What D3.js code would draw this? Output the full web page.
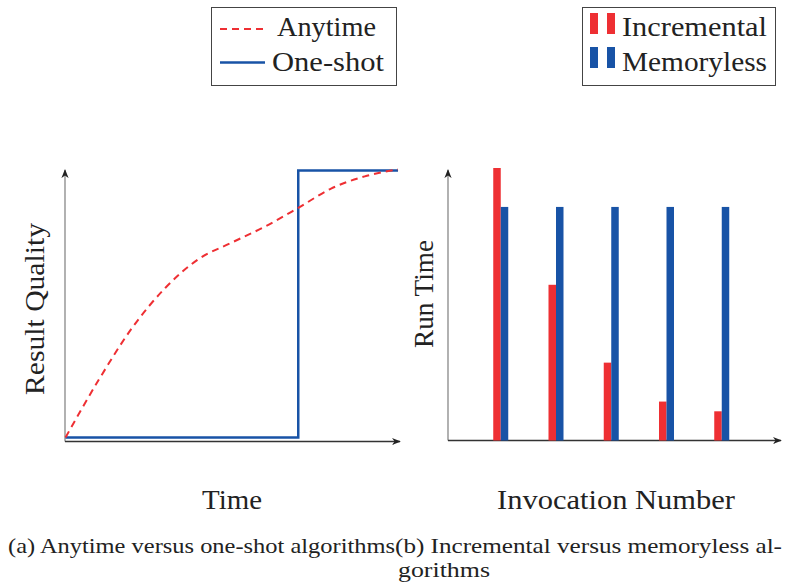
<!DOCTYPE html>
<html>
<head>
<meta charset="utf-8">
<script src="https://cdn.jsdelivr.net/npm/d3@7"></script>
<style>
  body { margin: 0; background: #fff; }
  text { font-family: "Liberation Serif", "Times New Roman", serif; fill: #222; }
</style>
</head>
<body>
<script>
// Panel (a): result quality over time
const anytimeX = [0, 1, 2, 3, 4, 5, 6, 7, 8, 9, 10];
const anytimeY = [0, 2.16, 4.1, 5.6, 6.68, 7.3, 7.9, 8.6, 9.33, 9.78, 10.04];
const oneShotX = [0, 7, 7, 10];
const oneShotY = [0, 0, 10, 10];

// Panel (b): run time per invocation
const invocations = [1, 2, 3, 4, 5];
const incremental = [7, 4, 2, 1, 0.75];
const memoryless = [6, 6, 6, 6, 6];

const legendA = ["Anytime", "One-shot"];
const legendB = ["Incremental", "Memoryless"];

const red = "#ee2f33";
const blue = "#1853a6";

const width = 786, height = 585;
const svg = d3.select("body").append("svg")
  .attr("width", width)
  .attr("height", height);

const defs = svg.append("defs");
defs.append("marker")
  .attr("id", "arrow")
  .attr("viewBox", "0 0 10 10")
  .attr("refX", 9).attr("refY", 5)
  .attr("markerWidth", 9).attr("markerHeight", 9)
  .attr("markerUnits", "userSpaceOnUse")
  .attr("orient", "auto")
  .append("path")
  .attr("d", "M0,1 L10,5 L0,9 L3,5 Z")
  .attr("fill", "#222");

function arrowAxes(x0, y0, x1, y1) {
  svg.append("line")
    .attr("x1", x0).attr("y1", y0).attr("x2", x0).attr("y2", y1)
    .attr("stroke", "#888").attr("stroke-width", 1.3)
    .attr("marker-end", "url(#arrow)");
  svg.append("line")
    .attr("x1", x0).attr("y1", y0).attr("x2", x1).attr("y2", y0)
    .attr("stroke", "#333").attr("stroke-width", 1.3)
    .attr("marker-end", "url(#arrow)");
}

// ---- panel (a)
const xA = d3.scaleLinear().domain([0, 10]).range([65.5, 398]);
const yA = d3.scaleLinear().domain([0, 10]).range([437.5, 170.5]);

arrowAxes(65, 441.5, 400, 170);

const lineA = d3.line().x(d => xA(d[0])).y(d => yA(d[1]));

svg.append("path")
  .datum(oneShotX.map((x, i) => [x, oneShotY[i]]))
  .attr("d", lineA)
  .attr("fill", "none")
  .attr("stroke", blue)
  .attr("stroke-width", 2.5);

svg.append("path")
  .datum(anytimeX.map((x, i) => [x, anytimeY[i]]))
  .attr("d", lineA.curve(d3.curveMonotoneX))
  .attr("fill", "none")
  .attr("stroke", red)
  .attr("stroke-width", 2)
  .attr("stroke-dasharray", "7,5");

svg.append("text")
  .attr("transform", "translate(44,309) rotate(-90)")
  .attr("text-anchor", "middle")
  .attr("font-size", 28)
  .attr("textLength", 172).attr("lengthAdjust", "spacingAndGlyphs")
  .text("Result Quality");

svg.append("text")
  .attr("x", 232).attr("y", 509)
  .attr("text-anchor", "middle")
  .attr("font-size", 28)
  .attr("textLength", 60).attr("lengthAdjust", "spacingAndGlyphs")
  .text("Time");

// ---- panel (b)
const xB = d3.scaleLinear().domain([0, 6]).range([445.5, 777]);
const yB = d3.scaleLinear().domain([0, 7]).range([440.5, 168]);
const barW = 7.5;

arrowAxes(448, 440.5, 781, 170);

const groups = svg.append("g");
groups.selectAll(".inc")
  .data(invocations)
  .join("rect")
  .attr("x", (d, i) => xB(d) - barW)
  .attr("y", (d, i) => yB(incremental[i]))
  .attr("width", barW)
  .attr("height", (d, i) => yB(0) - yB(incremental[i]))
  .attr("fill", red);
groups.selectAll(".mem")
  .data(invocations)
  .join("rect")
  .attr("x", d => xB(d))
  .attr("y", (d, i) => yB(memoryless[i]))
  .attr("width", barW)
  .attr("height", (d, i) => yB(0) - yB(memoryless[i]))
  .attr("fill", blue);

svg.append("text")
  .attr("transform", "translate(433,294) rotate(-90)")
  .attr("text-anchor", "middle")
  .attr("font-size", 28)
  .attr("textLength", 108).attr("lengthAdjust", "spacingAndGlyphs")
  .text("Run Time");

svg.append("text")
  .attr("x", 616).attr("y", 509)
  .attr("text-anchor", "middle")
  .attr("font-size", 28)
  .attr("textLength", 238).attr("lengthAdjust", "spacingAndGlyphs")
  .text("Invocation Number");

// ---- legends
const legA = svg.append("g");
legA.append("rect")
  .attr("x", 211.5).attr("y", 7.5).attr("width", 185).attr("height", 78)
  .attr("fill", "#fff").attr("stroke", "#444").attr("stroke-width", 1);
legA.append("line")
  .attr("x1", 220).attr("x2", 265).attr("y1", 29).attr("y2", 29)
  .attr("stroke", red).attr("stroke-width", 2).attr("stroke-dasharray", "7,5");
legA.append("line")
  .attr("x1", 220).attr("x2", 265).attr("y1", 62.5).attr("y2", 62.5)
  .attr("stroke", blue).attr("stroke-width", 2.5);
legA.append("text").attr("x", 277).attr("y", 36).attr("font-size", 28)
  .attr("textLength", 99).attr("lengthAdjust", "spacingAndGlyphs").text(legendA[0]);
legA.append("text").attr("x", 272).attr("y", 71).attr("font-size", 28)
  .attr("textLength", 112).attr("lengthAdjust", "spacingAndGlyphs").text(legendA[1]);

const legB = svg.append("g");
legB.append("rect")
  .attr("x", 582.5).attr("y", 7.5).attr("width", 193).attr("height", 78)
  .attr("fill", "#fff").attr("stroke", "#444").attr("stroke-width", 1);
[[13, red], [47, blue]].forEach(([y, c]) => {
  legB.append("rect").attr("x", 590).attr("y", y).attr("width", 8).attr("height", 21).attr("fill", c);
  legB.append("rect").attr("x", 607).attr("y", y).attr("width", 8).attr("height", 21).attr("fill", c);
});
legB.append("text").attr("x", 622).attr("y", 36).attr("font-size", 28)
  .attr("textLength", 145).attr("lengthAdjust", "spacingAndGlyphs").text(legendB[0]);
legB.append("text").attr("x", 622).attr("y", 71).attr("font-size", 28)
  .attr("textLength", 145).attr("lengthAdjust", "spacingAndGlyphs").text(legendB[1]);

// ---- captions
svg.append("text").attr("x", 8).attr("y", 553).attr("font-size", 22)
  .attr("textLength", 387).attr("lengthAdjust", "spacingAndGlyphs")
  .text("(a) Anytime versus one-shot algorithms");
svg.append("text").attr("x", 395).attr("y", 553).attr("font-size", 22)
  .attr("textLength", 387).attr("lengthAdjust", "spacingAndGlyphs")
  .text("(b) Incremental versus memoryless al-");
svg.append("text").attr("x", 444).attr("y", 577).attr("font-size", 22)
  .attr("text-anchor", "middle")
  .attr("textLength", 92).attr("lengthAdjust", "spacingAndGlyphs")
  .text("gorithms");
</script>
</body>
</html>
